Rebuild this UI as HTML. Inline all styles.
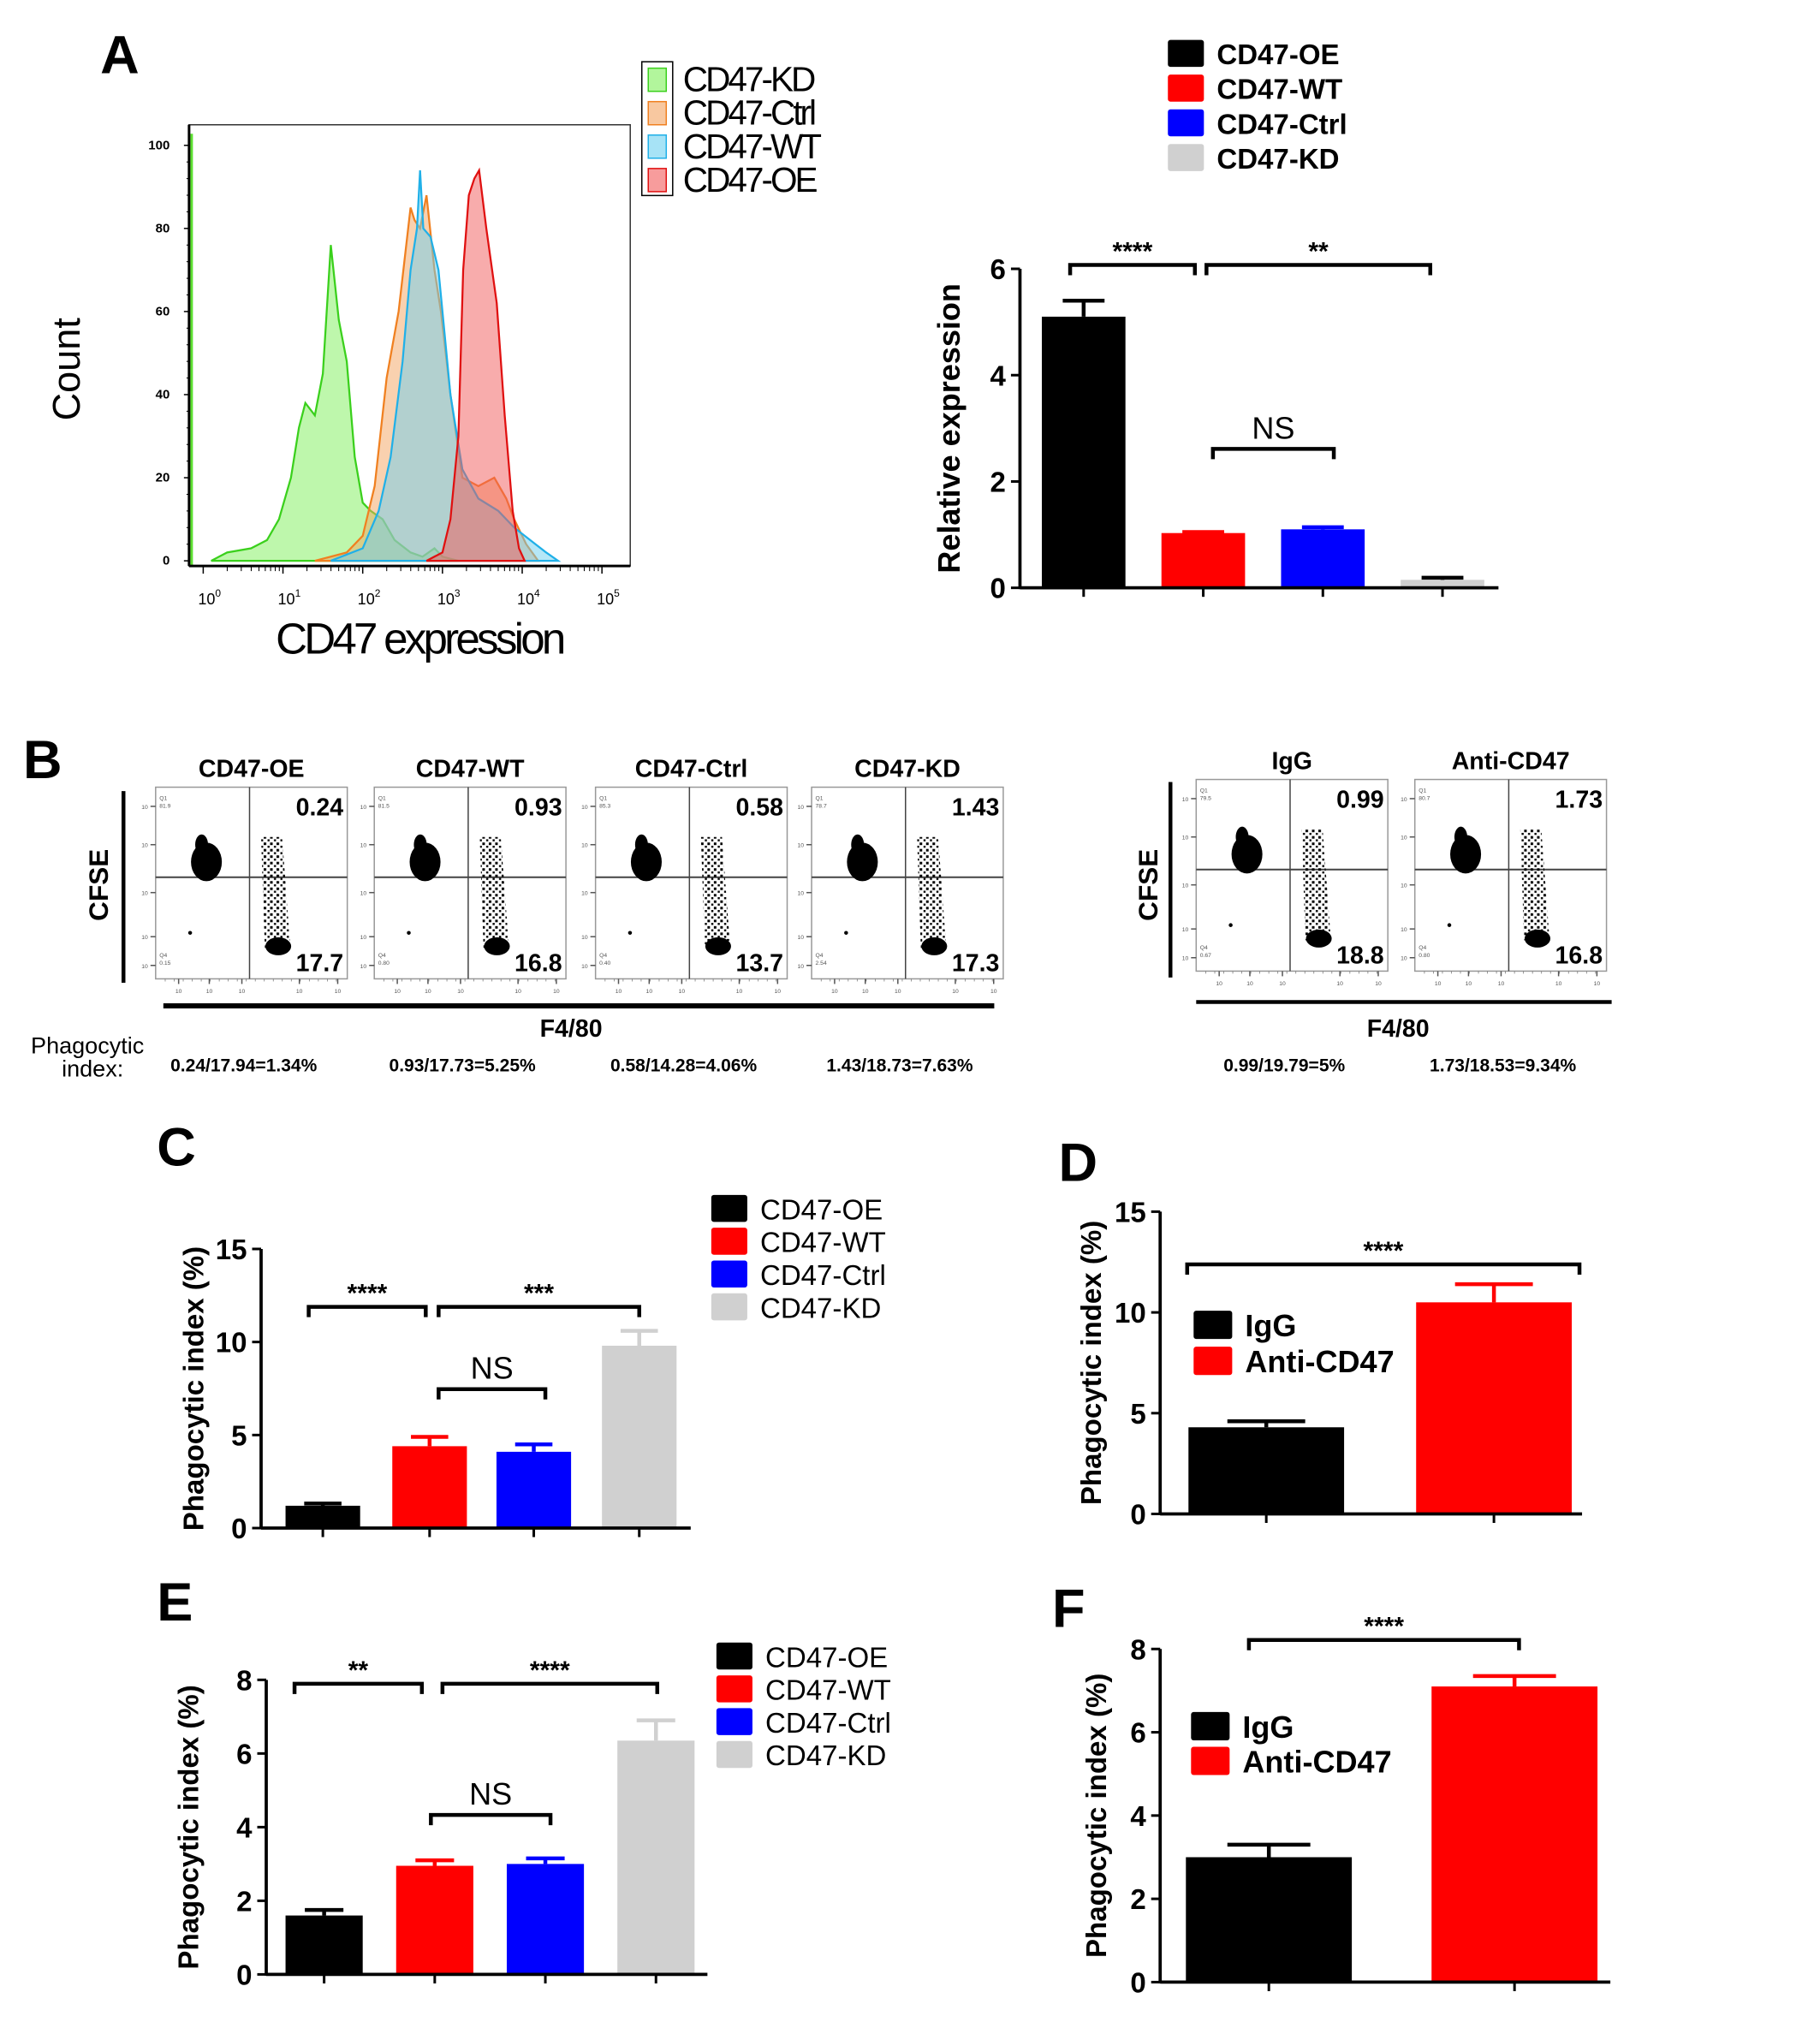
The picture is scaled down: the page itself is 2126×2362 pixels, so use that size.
<!DOCTYPE html>
<html><head><meta charset="utf-8"><style>
html,body{margin:0;padding:0;background:#fff;}
svg{display:block;font-family:"Liberation Sans",Arial,sans-serif;}
</style></head><body>
<svg id="fig" width="2126" height="2362" viewBox="0 0 1415 1572" preserveAspectRatio="none" xmlns="http://www.w3.org/2000/svg">
<defs>
<pattern id="speck" width="5" height="5" patternUnits="userSpaceOnUse">
<rect x="0" y="0" width="2" height="2" fill="#000"/><rect x="3" y="2.5" width="1.6" height="1.6" fill="#000"/>
</pattern>
</defs>
<rect width="1415" height="1572" fill="#fff"/>
<g id="root"></g>
</svg>
<script>
// ---------- DATA ----------
const histSeries = ["CD47-KD","CD47-Ctrl","CD47-WT","CD47-OE"];
const histKDx = [0.1,0.3,0.6,0.8,0.95,1.1,1.2,1.28,1.4,1.5,1.6,1.7,1.8,1.9,2.0,2.1,2.25,2.4,2.6,2.75,2.9,3.0,3.2];
const histKDy = [0,2,3,5,10,20,32,38,35,45,76,58,48,25,14,12,10,5,2,1,3,1,0];
const histCtrlx = [1.4,1.8,2.0,2.15,2.3,2.45,2.6,2.65,2.72,2.8,2.9,2.98,3.1,3.25,3.45,3.65,3.8,3.9,4.05,4.2];
const histCtrly = [0,2,6,18,44,60,85,82,80,88,70,60,40,20,18,20,15,10,4,0];
const histWTx = [1.6,2.0,2.2,2.35,2.5,2.6,2.68,2.72,2.76,2.85,2.95,3.1,3.25,3.45,3.7,3.9,4.1,4.3,4.45];
const histWTy = [0,3,12,25,48,70,80,94,80,78,70,40,22,15,12,8,5,2,0];
const histOEx = [2.8,3.0,3.1,3.2,3.26,3.33,3.4,3.46,3.55,3.68,3.78,3.88,3.96,4.03];
const histOEy = [0,2,10,30,70,88,92,94,80,62,35,12,3,0];
const histYTicks = [0,20,40,60,80,100];
const histXTicks = [0,1,2,3,4,5];

const grp4 = ["CD47-OE","CD47-WT","CD47-Ctrl","CD47-KD"];
const relExpr = [5.1,1.03,1.1,0.15];
const relExprErr = [0.3,0.02,0.04,0.04];
const relTicks = [0,2,4,6];

const phagoC = [1.2,4.4,4.1,9.8];
const phagoCErr = [0.12,0.5,0.4,0.8];
const phagoCTicks = [0,5,10,15];

const grp2 = ["IgG","Anti-CD47"];
const phagoD = [4.3,10.5];
const phagoDErr = [0.3,0.9];
const phagoDTicks = [0,5,10,15];

const phagoE = [1.6,2.95,3.0,6.35];
const phagoEErr = [0.15,0.15,0.15,0.55];
const phagoETicks = [0,2,4,6,8];

const phagoF = [3.0,7.1];
const phagoFErr = [0.3,0.25];
const phagoFTicks = [0,2,4,6,8];

const flowTitles = ["CD47-OE","CD47-WT","CD47-Ctrl","CD47-KD","IgG","Anti-CD47"];
const flowQ2 = ["0.24","0.93","0.58","1.43","0.99","1.73"];
const flowQ3 = ["17.7","16.8","13.7","17.3","18.8","16.8"];
const flowQ1 = ["81.9","81.5","85.3","78.7","79.5","80.7"];
const flowQ4 = ["0.15","0.80","0.40","2.54","0.67","0.80"];
const flowIndex = ["0.24/17.94=1.34%","0.93/17.73=5.25%","0.58/14.28=4.06%","1.43/18.73=7.63%","0.99/19.79=5%","1.73/18.53=9.34%"];

// ---------- HELPERS ----------
const NS="http://www.w3.org/2000/svg";
const root=document.getElementById('root');
function mk(tag,attrs,parent,text){const e=document.createElementNS(NS,tag);for(const k in attrs)e.setAttribute(k,attrs[k]);if(text!==undefined)e.textContent=text;(parent||root).appendChild(e);return e;}
function txt(x,y,s,size,opt,parent){opt=opt||{};const a={x:x,y:y,'font-size':size,fill:opt.fill||'#000','font-weight':opt.bold?'bold':'normal','text-anchor':opt.anchor||'start'};if(opt.rot)a.transform='rotate(-90 '+x+' '+y+')';if(opt.ff)a['font-family']=opt.ff;return mk('text',a,parent,s);}
const colors4=['#000','#f00','#00f','#d0d0d0'];
const colors2=['#000','#f00'];

[["A",78,57],["B",18,605],["C",122,906],["D",823,918],["E",122,1260],["F",818,1265]].forEach(p=>{
  const t=txt(p[1],p[2],p[0],42,{bold:true});
  
  
});

// ---------- HISTOGRAM ----------
(function(){
  const g=mk('g',{});
  
  
  const X=l=>158+62*l, Y=v=>436-3.23*v;
  mk('rect',{x:147,y:97,width:343,height:343,fill:'none',stroke:'#333','stroke-width':1},g);
  const cols={"CD47-KD":["#7ef05a","#3ad01c"],"CD47-Ctrl":["#f4a460","#f08020"],"CD47-WT":["#6cd0f0","#20b0e8"],"CD47-OE":["#f25a5a","#e01010"]};
  const xs=[histKDx,histCtrlx,histWTx,histOEx], ys=[histKDy,histCtrly,histWTy,histOEy];
  histSeries.forEach((s,i)=>{
    let d='M'+X(xs[i][0])+','+Y(0);
    xs[i].forEach((x,j)=>{d+=' L'+X(x).toFixed(1)+','+Y(ys[i][j]).toFixed(1);});
    d+=' L'+X(xs[i][xs[i].length-1])+','+Y(0)+'Z';
    const p=mk('path',{d:d,fill:cols[s][0],'fill-opacity':0.5,stroke:cols[s][1],'stroke-width':1.5},g);
    
    
  });
  mk('line',{x1:149,y1:104,x2:149,y2:440,stroke:'#5ce030','stroke-width':2},g);
  histYTicks.forEach(v=>{mk('line',{x1:143,y1:Y(v),x2:147,y2:Y(v),stroke:'#000'},g);txt(132,Y(v)+3,String(v),10,{anchor:'end',bold:true},g);});
  for(let v=0;v<=100;v+=4)mk('line',{x1:145,y1:Y(v),x2:147,y2:Y(v),stroke:'#000','stroke-width':.7},g);
  histXTicks.forEach(l=>{mk('line',{x1:X(l),y1:440,x2:X(l),y2:446,stroke:'#000'},g);
    const t=txt(X(l)-4,470,'10',12,{},g);mk('tspan',{dy:-6,'font-size':8},t,String(l));
    if(l<5)for(let k=2;k<10;k++){const xx=X(l+Math.log10(k));mk('line',{x1:xx,y1:440,x2:xx,y2:444,stroke:'#000','stroke-width':.7},g);}});
  mk('line',{x1:147,y1:440,x2:490,y2:440,stroke:'#000','stroke-width':2},g);
  mk('line',{x1:147,y1:97,x2:147,y2:440,stroke:'#000','stroke-width':2},g);
  const yl=txt(62,287,'Count',30,{anchor:'middle',rot:true},g);
  
  const xl=txt(326,508,'CD47 expression',34,{anchor:'middle'},g);xl.setAttribute('letter-spacing','-2.5');
  
  const lg=mk('g',{},g);
  mk('rect',{x:499,y:48,width:24,height:104,fill:'none',stroke:'#000'},lg);
  histSeries.forEach((s,i)=>{const y=50+i*26;
    mk('rect',{x:504,y:y+3,width:14,height:18,fill:cols[s][0],'fill-opacity':.6,stroke:cols[s][1]},lg);
    const t=txt(531,y+21,s,27,{},lg);t.setAttribute('letter-spacing','-2');});
})();

// ---------- BAR CHART FUNCTION ----------
function barChart(o){
  const g=mk('g',{});
  
  
  const Y=v=>o.y0-(o.y0-o.yTop)*v/o.max;
  o.vals.forEach((v,i)=>{
    const x=o.bx[i];
    const r=mk('rect',{x:x,y:Y(v),width:o.bw,height:o.y0-Y(v),fill:o.colors[i]},g);
    
    
    const cx=x+o.bw/2, ye=Y(v+o.err[i]);
    const e=mk('path',{d:'M'+cx+','+Y(v)+' V'+ye+' M'+(cx-o.bw*0.25)+','+ye+' H'+(cx+o.bw*0.25),stroke:i==3&&o.colors[i]=='#d0d0d0'&&v<1?'#000':o.colors[i],'stroke-width':3,fill:'none'},g);
    
    
    mk('line',{x1:cx,y1:o.y0,x2:cx,y2:o.y0+7,stroke:'#000','stroke-width':2},g);
  });
  mk('line',{x1:o.ax,y1:o.y0,x2:o.axEnd,y2:o.y0,stroke:'#000','stroke-width':2.5},g);
  mk('line',{x1:o.ax,y1:o.y0+1,x2:o.ax,y2:o.yTop,stroke:'#000','stroke-width':2.5},g);
  o.ticks.forEach(v=>{mk('line',{x1:o.ax-7,y1:Y(v),x2:o.ax,y2:Y(v),stroke:'#000','stroke-width':2},g);
    txt(o.ax-11,Y(v)+8,String(v),22,{anchor:'end',bold:true},g);});
  const yl=txt(o.ylx,(o.y0+o.yTop)/2,o.ylabel,o.ylsize||22,{anchor:'middle',bold:true,rot:true},g);
  
  (o.brackets||[]).forEach(b=>{
    const br=mk('path',{d:'M'+b[0]+','+(b[2]+8)+' V'+b[2]+' H'+b[1]+' V'+(b[2]+8),stroke:'#000','stroke-width':3,fill:'none'},g);
    
    txt((b[0]+b[1])/2,b[2]-(b[3]=='NS'?8:4),b[3],b[3]=='NS'?24:20,{anchor:'middle',bold:b[3]!='NS'},g);
  });
  const lg=mk('g',{},g);
  o.cats.forEach((c,i)=>{const y=o.lg[1]+i*o.lg[4];
    const it=mk('g',{},lg);
    mk('rect',{x:o.lg[0],y:y,width:o.lg[2],height:o.lg[3],fill:o.colors[i],rx:2},it);
    txt(o.lg[0]+o.lg[2]+10,y+o.lg[3]-2,c,o.lg[5],{bold:o.lg[6]},it);});
}

barChart({name:'relative-expression-chart',cats:grp4,vals:relExpr,err:relExprErr,colors:colors4,max:6,ticks:relTicks,
  y0:457,yTop:209,ax:793,axEnd:1165,bx:[810,903,996,1089],bw:65,ylx:746,ylabel:'Relative expression',ylsize:24,
  brackets:[[832,929,206,'****'],[938,1112,206,'**'],[943,1037,349,'NS']],lg:[908,31,28,21,27,22,true]});
barChart({name:'phagocytic-index-chart-c',cats:grp4,vals:phagoC,err:phagoCErr,colors:colors4,max:15,ticks:phagoCTicks,
  y0:1188,yTop:971,ax:203,axEnd:537,bx:[222,305,386,468],bw:58,ylx:158,ylabel:'Phagocytic index (%)',
  brackets:[[240,331,1016,'****'],[341,497,1016,'***'],[341,424,1080,'NS']],lg:[553,929,28,21,25.5,22,false]});
barChart({name:'phagocytic-index-chart-d',cats:grp2,vals:phagoD,err:phagoDErr,colors:colors2,max:15,ticks:phagoDTicks,
  y0:1177,yTop:942,ax:902,axEnd:1230,bx:[924,1101],bw:121,ylx:856,ylabel:'Phagocytic index (%)',
  brackets:[[923,1228,983,'****']],lg:[928,1019,30,22,28,24,true]});
barChart({name:'phagocytic-index-chart-e',cats:grp4,vals:phagoE,err:phagoEErr,colors:colors4,max:8,ticks:phagoETicks,
  y0:1535,yTop:1306,ax:207,axEnd:550,bx:[222,308,394,480],bw:60,ylx:154,ylabel:'Phagocytic index (%)',
  brackets:[[229,328,1309,'**'],[344,511,1309,'****'],[335,428,1411,'NS']],lg:[557,1277,28,21,25.5,22,false]});
barChart({name:'phagocytic-index-chart-f',cats:grp2,vals:phagoF,err:phagoFErr,colors:colors2,max:8,ticks:phagoFTicks,
  y0:1541,yTop:1282,ax:902,axEnd:1252,bx:[922,1113],bw:129,ylx:860,ylabel:'Phagocytic index (%)',
  brackets:[[971,1181,1275,'****']],lg:[926,1331,30,22,27,24,true]});

// ---------- FLOW PLOTS ----------
(function(){
  const boxes=[[121,612],[291,612],[463,612],[631,612],[930,606],[1100,606]];
  const W=149,H=149;
  flowTitles.forEach((t,i)=>{
    const [x,y]=boxes[i];
    const g=mk('g',{});
    
    
    mk('rect',{x:x,y:y,width:W,height:H,fill:'#fff',stroke:'#999','stroke-width':1},g);
    const vx=x+W*0.49, hy=y+H*0.47;
    mk('line',{x1:vx,y1:y,x2:vx,y2:y+H,stroke:'#444','stroke-width':1},g);
    mk('line',{x1:x,y1:hy,x2:x+W,y2:hy,stroke:'#444','stroke-width':1.3},g);
    // Q1 cluster
    mk('ellipse',{cx:x+W*0.265,cy:y+H*0.39,rx:12,ry:15,fill:'#000'},g);
    mk('ellipse',{cx:x+W*0.24,cy:y+H*0.3,rx:5,ry:8,fill:'#000'},g);
    // Q3 scatter column
    mk('path',{d:'M'+(x+W*0.55)+','+(y+H*0.26)+' L'+(x+W*0.66)+','+(y+H*0.26)+' L'+(x+W*0.7)+','+(y+H*0.8)+' L'+(x+W*0.57)+','+(y+H*0.84)+'Z',fill:'url(#speck)'},g);
    mk('ellipse',{cx:x+W*0.64,cy:y+H*0.83,rx:10,ry:7,fill:'#000'},g);
    mk('circle',{cx:x+W*0.18,cy:y+H*0.76,r:1.5,fill:'#000'},g);
    txt(x+W-3,y+22,flowQ2[i],19,{anchor:'end',bold:true},g);
    txt(x+W-3,y+H-6,flowQ3[i],19,{anchor:'end',bold:true},g);
    txt(x+3,y+10,'Q1',4.5,{fill:'#555'},g);txt(x+3,y+16,flowQ1[i],4.5,{fill:'#555'},g);
    txt(x+3,y+H-17,'Q4',4.5,{fill:'#555'},g);txt(x+3,y+H-11,flowQ4[i],4.5,{fill:'#555'},g);
    [0.12,0.28,0.45,0.75,0.95].forEach(f=>{mk('line',{x1:x+W*f,y1:y+H,x2:x+W*f,y2:y+H+4,stroke:'#555'},g);txt(x+W*f,y+H+11,'10',4.5,{anchor:'middle',fill:'#555'},g);});
    for(let k=0;k<20;k++)mk('line',{x1:x+W*(0.05+k*0.047),y1:y+H,x2:x+W*(0.05+k*0.047),y2:y+H+2,stroke:'#777','stroke-width':.5},g);
    [0.1,0.3,0.55,0.78,0.93].forEach(f=>{mk('line',{x1:x-4,y1:y+H*f,x2:x,y2:y+H*f,stroke:'#555'},g);txt(x-6,y+H*f+2,'10',4.5,{anchor:'end',fill:'#555'},g);});
    const tt=txt(x+W/2,y-8,t,19,{anchor:'middle',bold:true},g);
    
    const pi=txt(x+W/2-6,833,flowIndex[i],14,{anchor:'middle',bold:true},g);
    
  });
  mk('line',{x1:96,y1:615,x2:96,y2:764,stroke:'#000','stroke-width':3});
  mk('line',{x1:127,y1:782,x2:773,y2:782,stroke:'#000','stroke-width':4});
  mk('line',{x1:910,y1:608,x2:910,y2:760,stroke:'#000','stroke-width':3});
  mk('line',{x1:930,y1:779,x2:1253,y2:779,stroke:'#000','stroke-width':3});
  txt(84,688,'CFSE',21,{anchor:'middle',bold:true,rot:true});
  txt(900,688,'CFSE',21,{anchor:'middle',bold:true,rot:true});
  txt(444,806,'F4/80',19,{anchor:'middle',bold:true});
  txt(1087,806,'F4/80',19,{anchor:'middle',bold:true});
  txt(68,819,'Phagocytic',18,{anchor:'middle'});
  txt(72,837,'index:',18,{anchor:'middle'});
})();
</script>
</body></html>
